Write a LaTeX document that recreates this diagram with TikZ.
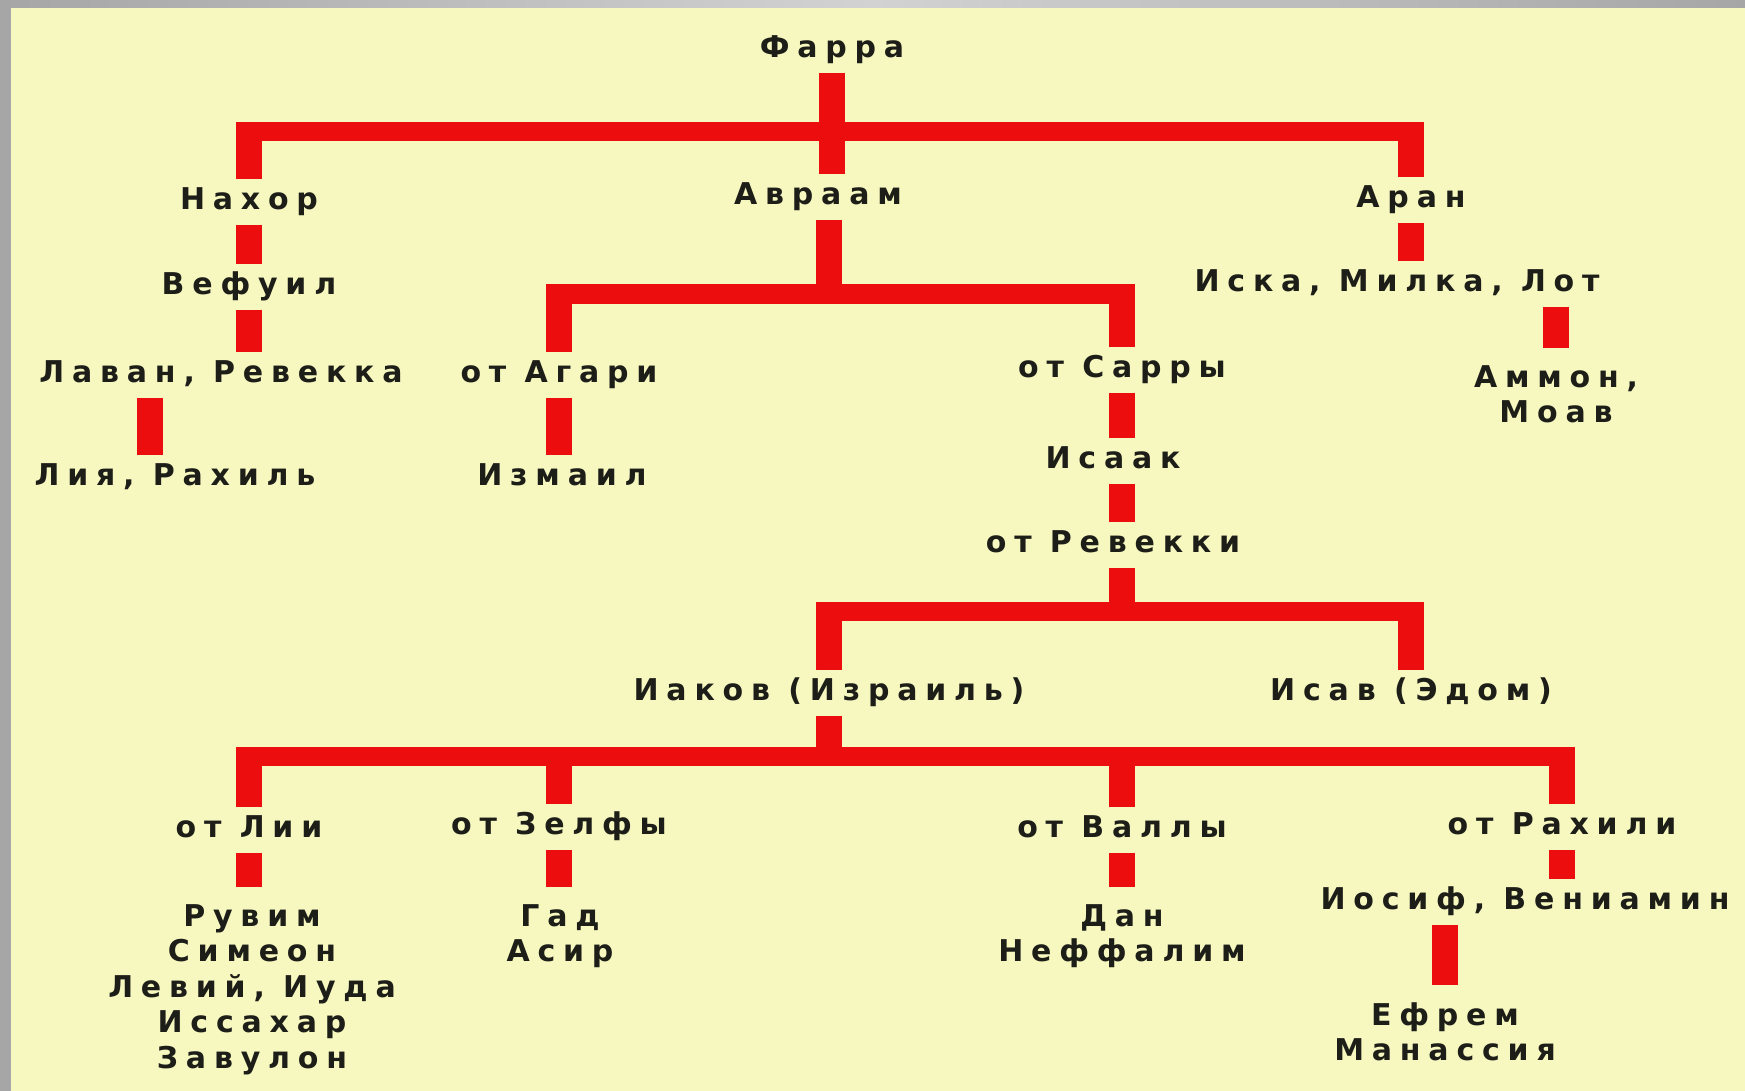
\documentclass[tikz,border=0pt]{standalone}
\usepackage{fontspec}
\usepackage{tikz}
\usetikzlibrary{positioning, calc}
\newfontfamily\treefont[LetterSpace=26]{DejaVu Sans}
\definecolor{paper}{RGB}{246, 248, 192}
\definecolor{trunk}{RGB}{236, 14, 14}
\definecolor{frame}{RGB}{166, 166, 166}
\definecolor{framelight}{RGB}{210, 210, 210}
\definecolor{ink}{RGB}{30, 30, 25}

\begin{document}
\begin{tikzpicture}[
    x=1pt, y=-1pt,
    person/.style={
        font=\treefont\bfseries\fontsize{30}{35.5}\selectfont,
        text=ink, inner xsep=2pt, inner ysep=8pt,
        text height=22pt, text depth=7pt
    },
    family/.style={
        font=\treefont\bfseries\fontsize{30}{35.5}\selectfont,
        text=ink, align=center, anchor=north,
        inner xsep=2pt, inner ysep=17pt
    },
    vbar/.style={draw=trunk, line width=26pt},
    hbar/.style={
        draw=trunk, line width=19pt,
        shorten <=-13pt, shorten >=-13pt
    }
]
\useasboundingbox (0,0) rectangle (1745,1091);

% Background
\fill[paper] (0,0) rectangle (1745,1091);
\shade[left color=frame, right color=frame, middle color=framelight] (0,0) rectangle (1745,8);
\fill[frame] (0,0) rectangle (11,1091);

% Terah and his sons
\node[person] (farra) at (832,50) {Фарра};
\node[person] (nahor) at (249,202) {Нахор};
\node[person] (avraam) at (818,197) {Авраам};
\node[person] (aran) at (1411,200) {Аран};

% Nahor's line
\node[person] (vefuil) at (249,287) {Вефуил};
\node[person] (lavan) at (221,375) {Лаван, Ревекка};
\node[person] (lija) at (175,478) {Лия, Рахиль};

% Abraham's line
\node[person] (agari) at (559,375) {от Агари};
\node[person] (izmail) at (562,478) {Измаил};
\node[person] (sarry) at (1122,370) {от Сарры};
\node[person] (isaak) at (1113,461) {Исаак};
\node[person] (revekki) at (1113,545) {от Ревекки};
\node[person] (iakov) at (829,693) {Иаков (Израиль)};
\node[person] (isav) at (1411,693) {Исав (Эдом)};

% Haran's line
\node[person] (iska) at (1397,284) {Иска, Милка, Лот};
\node[family] (ammon) at (1556,348) {Аммон,\\Моав};

% Jacob's wives and sons
\node[person] (lii) at (249,830) {от Лии};
\node[person] (zelfy) at (559,827) {от Зелфы};
\node[person] (vally) at (1122,830) {от Валлы};
\node[person] (rahili) at (1562,827) {от Рахили};
\node[family] (ruvim) at (252,887) {Рувим\\Симеон\\Левий, Иуда\\Иссахар\\Завулон};
\node[family] (gad) at (560,887) {Гад\\Асир};
\node[family] (dan) at (1122,887) {Дан\\Неффалим};
\node[person] (iosif) at (1525,902) {Иосиф, Вениамин};
\node[family] (efrem) at (1445,985) {Ефрем\\Манассия};

% Forks
\coordinate (fork1) at (832,132);
\coordinate (fork2) at (829,294);
\coordinate (fork3) at (1122,611);
\coordinate (fork4) at (829,756);
\coordinate[xshift=-25pt] (lijatop) at (lija.north);

% Terah
\draw[vbar] (farra.south) -- (farra.south |- avraam.north);
\draw[hbar] (nahor.north |- fork1) -- (aran.north |- fork1);
\draw[vbar] (nahor.north) -- (nahor.north |- fork1);
\draw[vbar] (aran.north) -- (aran.north |- fork1);

% Nahor
\draw[vbar] (nahor.south) -- (nahor.south |- vefuil.north);
\draw[vbar] (vefuil.south) -- (vefuil.south |- lavan.north);
\draw[vbar] (lijatop) -- (lijatop |- lavan.south);

% Abraham
\draw[vbar] (avraam.south -| fork2) -- (fork2);
\draw[hbar] (agari.north |- fork2) -- (sarry.north |- fork2);
\draw[vbar] (agari.north) -- (agari.north |- fork2);
\draw[vbar] (sarry.north) -- (sarry.north |- fork2);
\draw[vbar] (agari.south) -- (agari.south |- izmail.north);
\draw[vbar] (sarry.south) -- (isaak.north -| sarry.south);
\draw[vbar] (isaak.south -| fork3) -- (revekki.north -| fork3);
\draw[vbar] (revekki.south -| fork3) -- (fork3);
\draw[hbar] (iakov.north |- fork3) -- (isav.north |- fork3);
\draw[vbar] (iakov.north) -- (iakov.north |- fork3);
\draw[vbar] (isav.north) -- (isav.north |- fork3);

% Haran
\draw[vbar] (aran.south) -- (aran.south |- iska.north);
\draw[vbar] (ammon.north) -- (ammon.north |- iska.south);

% Jacob
\draw[vbar] (iakov.south) -- (iakov.south |- fork4);
\draw[hbar] (lii.north |- fork4) -- (rahili.north |- fork4);
\draw[vbar] (lii.north) -- (lii.north |- fork4);
\draw[vbar] (zelfy.north) -- (zelfy.north |- fork4);
\draw[vbar] (vally.north) -- (vally.north |- fork4);
\draw[vbar] (rahili.north) -- (rahili.north |- fork4);
\draw[vbar] (lii.south) -- (lii.south |- ruvim.north);
\draw[vbar] (zelfy.south) -- (zelfy.south |- gad.north);
\draw[vbar] (vally.south) -- (vally.south |- dan.north);
\draw[vbar] (rahili.south) -- (rahili.south |- iosif.north);
\draw[vbar] (efrem.north) -- (efrem.north |- iosif.south);

\end{tikzpicture}
\end{document}
